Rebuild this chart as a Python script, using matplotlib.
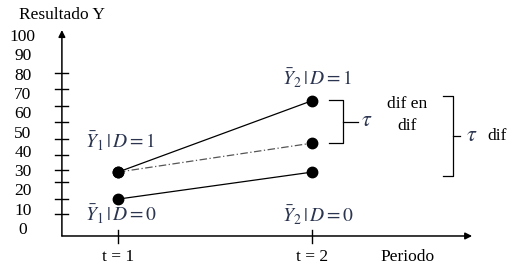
import matplotlib.pyplot as plt
import numpy as np

# Data
periods = [1, 2]
treated = [30, 67]          # Y | D = 1
control = [16, 30]          # Y | D = 0
counterfactual = [30, 45]   # treated group without treatment
y_tick_labels = [0, 10, 20, 30, 40, 50, 60, 70, 80, 90, 100]
axis_marks = [8.3, 16.1, 24.9, 31.1, 38.9, 47.2, 56.0, 64.2, 73.1, 81.3]

plt.rcParams['font.family'] = ['Liberation Serif', 'DejaVu Serif']
plt.rcParams['mathtext.fontset'] = 'stix'

fig = plt.figure(figsize=(5.15, 2.71), dpi=100)
ax = fig.add_axes([0, 0, 1, 1])
ax.set_xlim(0.392, 3.046)
ax.set_ylim(-21.24, 119.17)
ax.axis('off')

math_col = '#2b3550'
fs = 12.5
mfs = 14

# axes with arrows
ax.annotate('', xy=(0.711, 103.6), xytext=(0.711, -3.1),
            arrowprops=dict(arrowstyle='-|>', color='black', lw=1.1,
                            mutation_scale=10, shrinkA=0, shrinkB=0))
ax.annotate('', xy=(2.825, -3.1), xytext=(0.711, -3.1),
            arrowprops=dict(arrowstyle='-|>', color='black', lw=1.1,
                            mutation_scale=10, shrinkA=0, shrinkB=0))

# tick marks on the y axis and tick labels
for m in axis_marks:
    ax.plot([0.675, 0.742], [m, m], color='black', lw=1)
for v in y_tick_labels:
    ax.text(0.51, v, str(v), ha='center', va='center', fontsize=fs)
ax.text(0.71, 111.3, 'Resultado Y', ha='center', va='center', fontsize=fs)

# x ticks
for p in periods:
    ax.plot([p, p], [0, -6.7], color='black', lw=1)
    ax.text(p, -14, 't = %d' % p, ha='center', va='center', fontsize=fs)
ax.text(2.49, -14, 'Periodo', ha='center', va='center', fontsize=fs)

# lines and points
ax.plot(periods, treated, color='black', lw=0.9)
ax.plot(periods, control, color='black', lw=0.9)
ax.plot(periods, counterfactual, color='#555555', lw=0.9,
        linestyle=(0, (6, 2, 1, 2)))
for series in (treated, control, counterfactual):
    ax.plot(periods, series, 'o', color='black', markersize=7.5, linestyle='none')

# group labels
ax.text(0.83, 46, r'$\bar{Y}_1\,|\,D=1$', fontsize=mfs, color=math_col, va='center')
ax.text(0.83, 8, r'$\bar{Y}_1\,|\,D=0$', fontsize=mfs, color=math_col, va='center')
ax.text(1.845, 78.5, r'$\bar{Y}_2\,|\,D=1$', fontsize=mfs, color=math_col, va='center')
ax.text(1.845, 7.5, r'$\bar{Y}_2\,|\,D=0$', fontsize=mfs, color=math_col, va='center')

def bracket(x0, x1, xt, ytop, ybot, ytip):
    ax.plot([x0, x1, x1, x0], [ytop, ytop, ybot, ybot], color='black', lw=0.9)
    ax.plot([x1, xt], [ytip, ytip], color='black', lw=0.9)

# small bracket: dif en dif
bracket(2.088, 2.160, 2.237, 67.4, 45.1, 56.0)
ax.text(2.284, 56.0, r'$\tau$', fontsize=16, color=math_col, ha='center', va='center')
ax.text(2.490, 65.3, 'dif en', fontsize=fs, ha='center', va='center')
ax.text(2.490, 53.9, 'dif', fontsize=fs, ha='center', va='center')

# large bracket: dif
bracket(2.675, 2.727, 2.763, 69.4, 28.0, 48.7)
ax.text(2.825, 48.7, r'$\tau$', fontsize=16, color=math_col, ha='center', va='center')
ax.text(2.954, 48.7, 'dif', fontsize=fs, ha='center', va='center')

fig.savefig('out.png', dpi=100)
